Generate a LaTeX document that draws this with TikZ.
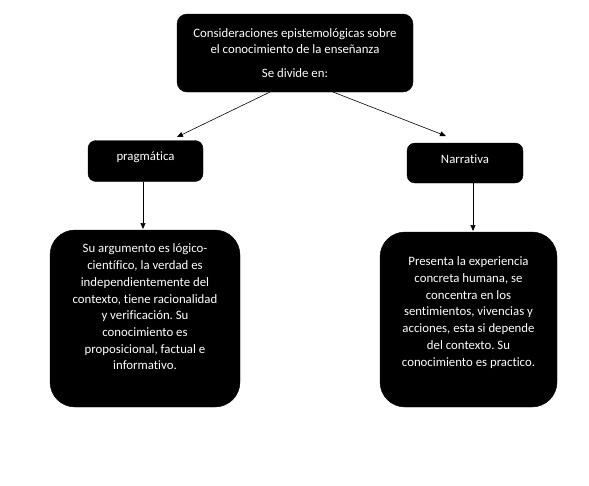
\documentclass[tikz,border=0pt]{standalone}
\usepackage{fontspec}
\setmainfont[Ligatures={NoCommon}]{Carlito}
\frenchspacing
\usetikzlibrary{arrows.meta}
\begin{document}
\begin{tikzpicture}[x=1pt,y=-1pt,
  box/.style={draw=black,fill=black,rounded corners=#1,inner sep=0pt},
  box/.default=10pt,
  txt/.style={text=white,font=\fontsize{12.8}{16.7}\selectfont,align=center,inner sep=0pt},
  arr/.style={-{Triangle[length=6pt,width=5pt]},line width=0.6pt}]
\useasboundingbox (0,0) rectangle (589,485);
\node[box, minimum width=236pt, minimum height=78pt] (top) at (295,53) {};
\node[txt] (toptxt) at (295,53) {Consideraciones epistemológicas sobre\\el conocimiento de la enseñanza\\[7pt]Se divide en:};
\node[box=8pt, minimum width=115pt, minimum height=41pt] (prag) at (145.5,161) {};
\node[txt] (pragtxt) at (145.5,157.5) {pragmática};
\node[box=8pt, minimum width=116pt, minimum height=40pt] (narr) at (465,163) {};
\node[txt] (narrtxt) at (465,159.5) {Narrativa};
\node[box=25pt, minimum width=190pt, minimum height=177pt] (left) at (145,318.5) {};
\node[txt] (lefttxt) at (145,307) {Su argumento es lógico-\\científico, la verdad es\\independientemente del\\contexto, tiene racionalidad\\y verificación. Su\\conocimiento es\\proposicional, factual e\\informativo.};
\node[box=25pt, minimum width=177pt, minimum height=175pt] (right) at (468.5,319.5) {};
\node[txt] (righttxt) at (468.5,312.5) {Presenta la experiencia\\concreta humana, se\\concentra en los\\sentimientos, vivencias y\\acciones, esta si depende\\del contexto. Su\\conocimiento es practico.};
\coordinate (a1) at (270,92);
\coordinate (a2) at (333,92);
\coordinate (p1) at (177,137);
\coordinate (n1) at (446,136);
\draw[arr] (a1) -- (p1);
\draw[arr] (a2) -- (n1);
\draw[arr] (prag.south -| 143,0) -- (143,229);
\draw[arr] (narr.south -| 473,0) -- (473,231);
\end{tikzpicture}
\end{document}
